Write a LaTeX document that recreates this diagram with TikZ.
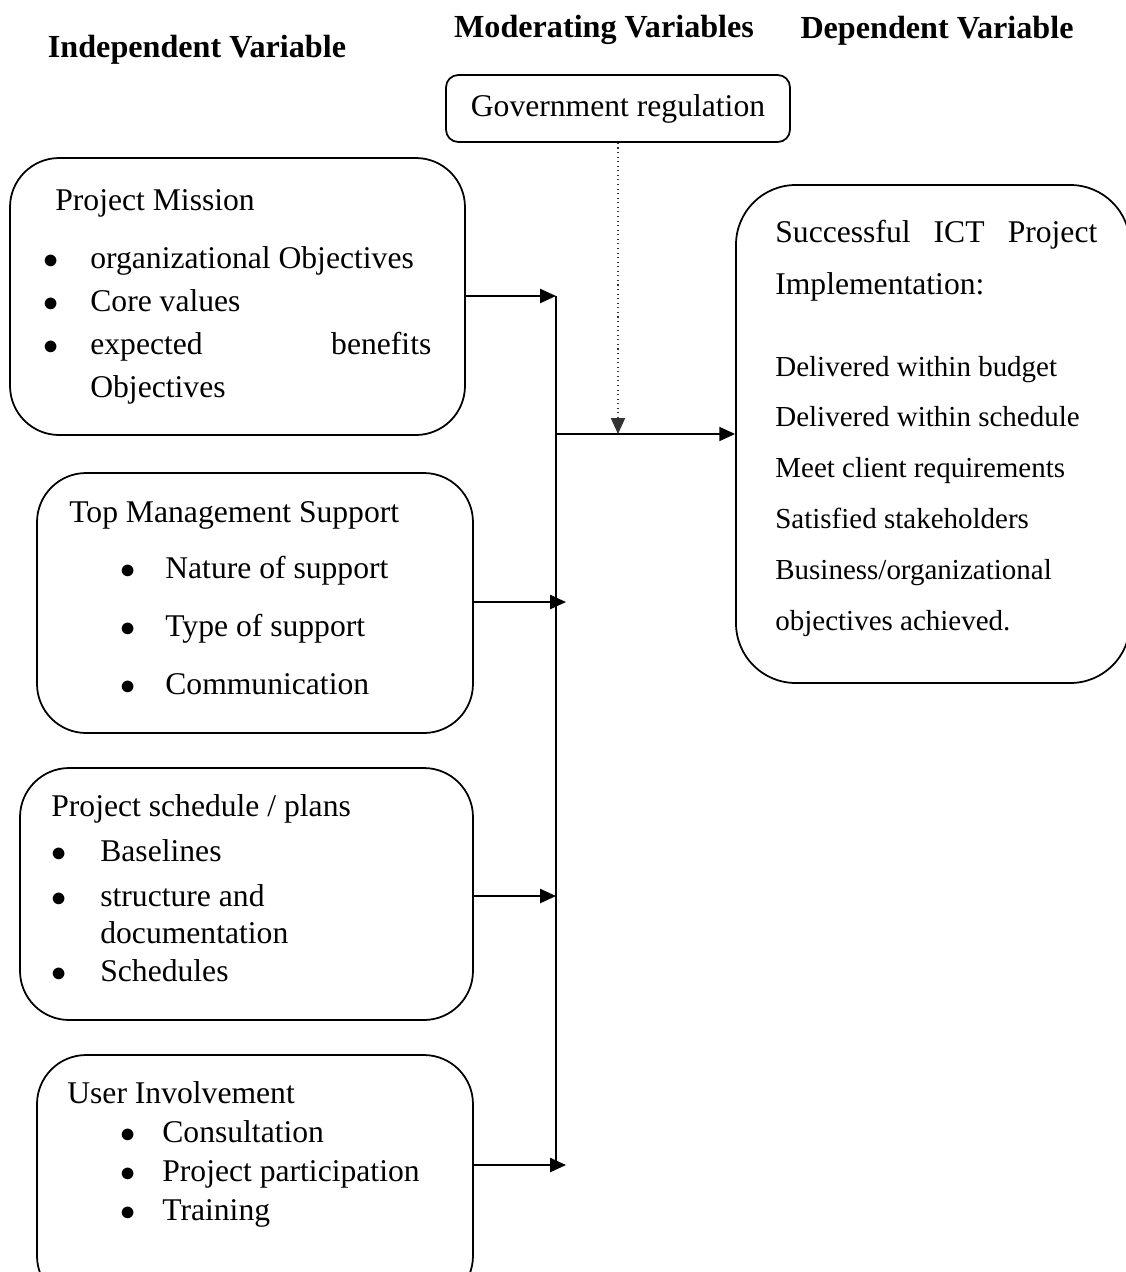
\documentclass[tikz,border=0pt]{standalone}
\usepackage{fontspec}
\setmainfont{Liberation Serif}
\usetikzlibrary{arrows.meta, positioning}
\newlength{\pxu}\setlength{\pxu}{0.02cm}
\newcommand{\itemdot}[1]{\makebox[#1][l]{$\bullet$}}
\tikzset{
    varbox/.style={draw=black, line width=1pt, rounded corners=28pt, inner sep=0pt},
    outbox/.style={draw=black, line width=1pt, rounded corners=34pt, inner sep=0pt},
    modbox/.style={draw=black, line width=1pt, rounded corners=7pt, inner sep=0pt,
        font=\fontsize{18}{22}\selectfont},
    heading/.style={font=\fontsize{18.3}{22}\selectfont\bfseries, inner sep=0pt, anchor=base},
    body/.style={anchor=base west, inner sep=0pt, align=left},
    flow/.style={-{Triangle[length=9pt,width=8pt]}, line width=1pt},
    modflow/.style={-{Triangle[length=9pt,width=8pt]}, dotted, line width=0.6pt, draw=black!80}
}

\begin{document}
\begin{tikzpicture}[x=0.02cm, y=-0.02cm]

    \useasboundingbox (0,0) rectangle (1126,1272);
    \clip (0,0) rectangle (1126,1272);

    % --- column headings ---
    \node[heading] (indep) at (197,57) {Independent Variable};
    \node[heading] (moder) at (604,37) {Moderating Variables};
    \node[heading] (depen) at (937,38) {Dependent Variable};

    % --- moderating variable ---
    \node[modbox, minimum width=344\pxu, minimum height=67\pxu] (govreg) at (618,108.5) {Government regulation};

    % --- independent variables (text nodes sit on the baseline of their last line) ---
    \node[varbox, minimum width=455\pxu, minimum height=277\pxu] (mission) at (237.5,296.5) {};
    \node[body, font=\fontsize{18}{24.4}\selectfont] (missiontxt) at (43,397) {
        \hspace*{12\pxu}Project Mission\\[15\pxu]
        \itemdot{47\pxu}organizational Objectives\\
        \itemdot{47\pxu}Core values\\
        \itemdot{47\pxu}\makebox[341\pxu][s]{expected\hfill benefits}\\
        \hspace*{47\pxu}Objectives
    };

    \node[varbox, minimum width=436\pxu, minimum height=260\pxu] (support) at (255,603) {};
    \node[body, font=\fontsize{18}{32.9}\selectfont] (supporttxt) at (69,694) {
        Top Management Support\\[-2\pxu]
        \hspace*{51\pxu}\itemdot{45\pxu}Nature of support\\
        \hspace*{51\pxu}\itemdot{45\pxu}Type of support\\
        \hspace*{51\pxu}\itemdot{45\pxu}Communication
    };

    \node[varbox, minimum width=453\pxu, minimum height=252\pxu] (schedule) at (246.5,894) {};
    \node[body, font=\fontsize{18}{21}\selectfont] (scheduletxt) at (51,981) {
        Project schedule / plans\\[8\pxu]
        \itemdot{49\pxu}Baselines\\[8\pxu]
        \itemdot{49\pxu}structure and\\
        \hspace*{49\pxu}documentation\\[1\pxu]
        \itemdot{49\pxu}Schedules
    };

    \node[varbox, minimum width=436\pxu, minimum height=250\pxu] (users) at (255,1180) {};
    \node[body, font=\fontsize{18}{22.1}\selectfont] (userstxt) at (67,1220) {
        User Involvement\\
        \hspace*{53\pxu}\itemdot{42\pxu}Consultation\\
        \hspace*{53\pxu}\itemdot{42\pxu}Project participation\\
        \hspace*{53\pxu}\itemdot{42\pxu}Training
    };

    % --- dependent variable ---
    \node[outbox, minimum width=394\pxu, minimum height=498\pxu] (success) at (933,434) {};
    \node[body, font=\fontsize{18}{29.5}\selectfont] (successhead) at (775,294) {
        \makebox[322\pxu][s]{Successful\hfill ICT\hfill Project}\\
        Implementation:
    };
    \node[body, font=\fontsize{16.5}{28.9}\selectfont] (successlist) at (775,630) {
        Delivered within budget\\
        Delivered within schedule\\
        Meet client requirements\\
        Satisfied stakeholders\\
        Business/organizational\\
        objectives achieved.
    };

    % --- connectors ---
    \coordinate (bustop) at (556,296);
    \coordinate (busmid) at (556,434);
    \coordinate (busbot) at (556,1165);
    \coordinate (in2) at (566,602);
    \coordinate (in3) at (556,896);
    \coordinate (in4) at (566,1165);

    \draw[line width=1pt] (bustop) -- (busbot);
    \draw[flow] (mission.east |- bustop) -- (bustop);
    \draw[flow] (support.east |- in2) -- (in2);
    \draw[flow] (schedule.east |- in3) -- (in3);
    \draw[flow] (users.east |- in4) -- (in4);
    \draw[flow] (busmid) -- (success.west |- busmid);
    \draw[modflow] (govreg.south) -- (govreg.south |- busmid);

\end{tikzpicture}
\end{document}
